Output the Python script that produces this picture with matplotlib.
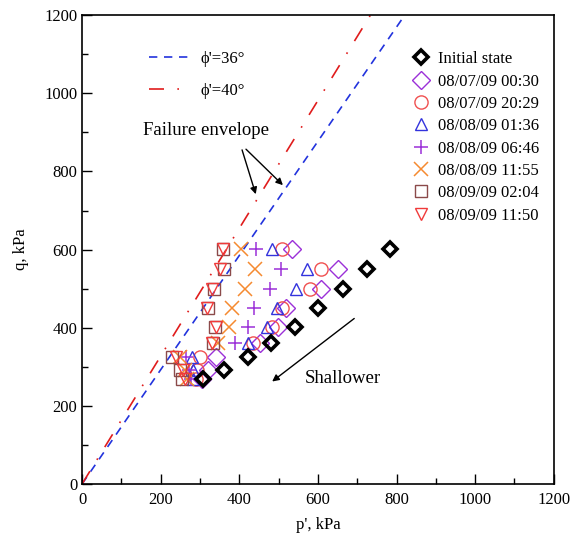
import matplotlib
matplotlib.use('Agg')
import matplotlib.pyplot as plt
import numpy as np

plt.rcParams['font.family'] = ['Liberation Serif', 'DejaVu Serif']

# deviator stress levels (rows) shared by all states
q_rows = [601, 550, 498, 451, 402, 362, 325, 292, 268]

# mean effective stress for each state
p_initial = [783, 724, 663, 601, 543, 481, 423, 362, 307]
p_0730 = [533, 651, 608, 520, 499, 453, 342, 321, 304]
p_2029 = [508, 609, 580, 508, 482, 436, 300, 292, 290]
p_0136 = [482, 571, 544, 495, 470, 423, 280, 282, 283]
p_0646 = [442, 505, 478, 438, 423, 389, 265, 272, 276]
p_1155 = [404, 440, 414, 381, 374, 347, 250, 262, 268]
p_0204 = [359, 362, 335, 320, 338, 333, 228, 250, 255]
p_1150 = [359, 351, 330, 317, 341, 330, 238, 258, 262]

labels = ['Initial state', '08/07/09 00:30', '08/07/09 20:29', '08/08/09 01:36',
          '08/08/09 06:46', '08/08/09 11:55', '08/09/09 02:04', '08/09/09 11:50']
series = [p_initial, p_0730, p_2029, p_0136, p_0646, p_1155, p_0204, p_1150]
markers = ['D', 'D', 'o', '^', '+', 'x', 's', 'v']
colors = ['black', '#9b30d8', '#f05050', '#3333dd', '#9b30d8', '#f58a30', '#8b4a4a', '#f03a3a']

phi_deg = [36, 40]

fig = plt.figure(figsize=(5.86, 5.37), dpi=100)
ax = fig.add_axes([0.140, 0.0987, 0.805, 0.873])

# failure envelopes q = M p'
p_line = np.array([0, 1200])
M36 = 6 * np.sin(np.radians(phi_deg[0])) / (3 - np.sin(np.radians(phi_deg[0])))
M40 = 6 * np.sin(np.radians(phi_deg[1])) / (3 - np.sin(np.radians(phi_deg[1])))
l1, = ax.plot(p_line, M36 * p_line, color='#2233dd', lw=1.2, linestyle=(0, (5, 4)),
              label="\u03d5'=36\u00b0")
l2, = ax.plot(p_line, M40 * p_line, color='#e01c1c', lw=1.2, linestyle=(0, (9, 8, 1, 8)),
              label="\u03d5'=40\u00b0")

handles = []
for i, (p, lab) in enumerate(zip(series, labels)):
    if i == 0:
        h, = ax.plot(p, q_rows, linestyle='none', marker='D', ms=7, mfc='none',
                     mec='black', mew=2.6, label=lab, zorder=5)
    elif markers[i] in ('+', 'x'):
        h, = ax.plot(p, q_rows, linestyle='none', marker=markers[i], ms=10,
                     color=colors[i], mew=1.1, label=lab)
    else:
        ms = 9.5 if markers[i] in ('D', 'o') else 9
        h, = ax.plot(p, q_rows, linestyle='none', marker=markers[i], ms=ms,
                     mfc='none', mec=colors[i], mew=1.0, label=lab)
    handles.append(h)

ax.set_xlim(0, 1200)
ax.set_ylim(0, 1200)
ax.set_xticks(np.arange(0, 1201, 200))
ax.set_yticks(np.arange(0, 1201, 200))
ax.set_xticks(np.arange(0, 1201, 100), minor=True)
ax.set_yticks(np.arange(0, 1201, 100), minor=True)
ax.tick_params(which='major', direction='in', length=7, width=1, labelsize=12,
               top=False, right=False)
ax.tick_params(axis='x', which='major', pad=6)
ax.tick_params(which='minor', direction='in', length=4, width=1, top=False, right=False)
for s in ax.spines.values():
    s.set_linewidth(1.2)
ax.set_xlabel("p', kPa", fontsize=12, labelpad=6)
ax.set_ylabel('q, kPa', fontsize=12, labelpad=11)

leg1 = ax.legend(handles=[l1, l2], loc='upper left', bbox_to_anchor=(0.11, 0.955),
                 frameon=False, fontsize=12, handlelength=2.6, handletextpad=0.5,
                 labelspacing=0.95)
ax.add_artist(leg1)
ax.legend(handles=handles, loc='upper left', bbox_to_anchor=(0.67, 0.955),
          frameon=False, fontsize=12, handlelength=1.0, handletextpad=0.5,
          labelspacing=0.38, markerscale=1.0)

ax.text(315, 905, 'Failure envelope', fontsize=13.5, ha='center', va='center')
ax.annotate('', xy=(444, 735), xytext=(405, 862),
            arrowprops=dict(arrowstyle='-|>', color='black', lw=1.0, mutation_scale=10))
ax.annotate('', xy=(516, 760), xytext=(412, 862),
            arrowprops=dict(arrowstyle='-|>', color='black', lw=1.0, mutation_scale=10))
ax.annotate('', xy=(478, 258), xytext=(698, 428),
            arrowprops=dict(arrowstyle='-|>', color='black', lw=1.0, mutation_scale=10))
ax.text(663, 271, 'Shallower', fontsize=13.5, ha='center', va='center')

fig.savefig('out.png', dpi=100)
plt.close(fig)
